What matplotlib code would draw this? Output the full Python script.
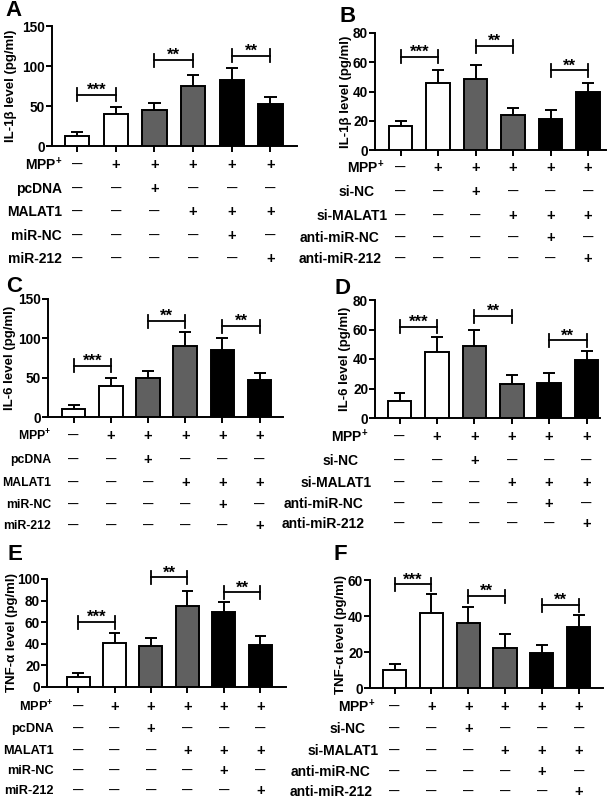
import matplotlib
matplotlib.use('Agg')
import matplotlib.pyplot as plt
import matplotlib.transforms as mtransforms

plt.rcParams['font.family'] = ['Liberation Sans', 'DejaVu Sans']
plt.rcParams['font.weight'] = 'bold'
plt.rcParams['mathtext.fontset'] = 'custom'
plt.rcParams['mathtext.rm'] = 'Liberation Sans:bold'
plt.rcParams['mathtext.bf'] = 'Liberation Sans:bold'

# Row labels under the bars
rows_oe = ['MPP$^{\\mathbf{+}}$', 'pcDNA', 'MALAT1', 'miR-NC', 'miR-212']
rows_kd = ['MPP$^{\\mathbf{+}}$', 'si-NC', 'si-MALAT1', 'anti-miR-NC', 'anti-miR-212']
signs = [
    ['-', '+', '+', '+', '+', '+'],
    ['-', '-', '+', '-', '-', '-'],
    ['-', '-', '-', '+', '+', '+'],
    ['-', '-', '-', '-', '+', '-'],
    ['-', '-', '-', '-', '-', '+'],
]
bar_colors = ['white', 'white', '#606060', '#606060', 'black', 'black']

# Means and SD (pg/ml)
il1b_oe = [13, 40, 45, 75, 82, 52]
il1b_oe_err = [4, 9, 9, 14, 16, 9]
il1b_kd = [16.4, 45.5, 48.4, 23.6, 21, 39.5]
il1b_kd_err = [3.6, 9.5, 9.6, 5.4, 6.5, 6.5]
il6_oe = [10, 40, 49, 90, 85, 47.5]
il6_oe_err = [5, 9, 10, 18, 16, 8.5]
il6_kd = [11.4, 45, 49, 23, 24, 39]
il6_kd_err = [5.6, 10, 11, 6, 6.5, 6.5]
tnf_oe = [9.2, 40.6, 38, 75, 69, 38.5]
tnf_oe_err = [3.7, 9.4, 7.5, 14, 10, 8.5]
tnf_kd = [10, 41.9, 36, 22.4, 19.6, 34]
tnf_kd_err = [3.3, 10.1, 9, 7.4, 4.3, 6.4]

# Significance brackets: (bar i, bar j, height, label)
sig_a = [(0, 1, 64, '***'), (2, 3, 107.5, '**'), (4, 5, 113, '**')]
sig_b = [(0, 1, 63.6, '***'), (2, 3, 71, '**'), (4, 5, 54.5, '**')]
sig_c = [(0, 1, 65, '***'), (2, 3, 122, '**'), (4, 5, 115.5, '**')]
sig_d = [(0, 1, 62, '***'), (2, 3, 69, '**'), (4, 5, 52.7, '**')]
sig_e = [(0, 1, 60, '***'), (2, 3, 101.5, '**'), (4, 5, 87.7, '**')]
sig_f = [(0, 1, 57.6, '***'), (2, 3, 51, '**'), (4, 5, 46, '**')]

W, H = 616, 799
fig = plt.figure(figsize=(W / 100, H / 100), dpi=100)


def draw_panel(letter, box, xlim, ymax, ystep, ylabel, vals, errs, sigs,
               rows, row_y, row_x, row_dx, row_fs, letter_xy, ylabel_x):
    left, top, right, bottom = box
    ax = fig.add_axes([left / W, 1 - bottom / H, (right - left) / W, (bottom - top) / H])
    x = list(range(len(vals)))
    ax.bar(x, vals, width=0.63, color=bar_colors, edgecolor='black', linewidth=1.4, zorder=3)
    tops = [v + e for v, e in zip(vals, errs)]
    ax.vlines(x, vals, tops, color='black', linewidth=1.4, zorder=2)
    ax.hlines(tops, [i - 0.16 for i in x], [i + 0.16 for i in x], color='black', linewidth=1.4, zorder=2)

    ax.set_xlim(*xlim)
    ax.set_ylim(0, ymax)
    ax.set_yticks(range(0, ymax + 1, ystep))
    ax.set_xticks(x)
    ax.set_xticklabels([])
    for s in ['top', 'right']:
        ax.spines[s].set_visible(False)
    for s in ['left', 'bottom']:
        ax.spines[s].set_linewidth(1.4)
    ax.tick_params(width=1.4, length=4, labelsize=9.8, pad=1)
    for lab in ax.get_yticklabels():
        lab.set_fontweight('bold')

    # brackets
    half = 6.5 / (bottom - top) * ymax
    for i, j, y, lab in sigs:
        ax.plot([i, j], [y, y], color='black', linewidth=1.3, clip_on=False)
        ax.plot([i, i], [y - half, y + half], color='black', linewidth=1.3, clip_on=False)
        ax.plot([j, j], [y - half, y + half], color='black', linewidth=1.3, clip_on=False)
        ax.text((i + j) / 2, y, lab, ha='center', va='baseline', fontsize=12)

    # condition table
    tr = mtransforms.blended_transform_factory(ax.transData, fig.transFigure)
    for r, name in enumerate(rows):
        yf = 1 - row_y[r] / H
        fig.text((row_x + row_dx[r]) / W, yf, name, ha='right', va='center', fontsize=row_fs)
        for c, s in enumerate(signs[r]):
            if s == '+':
                ax.text(c, yf, '+', transform=tr, ha='center', va='center', fontsize=10.5)
            else:
                ax.text(c, yf, '\u2014', transform=tr, ha='center', va='center', fontsize=7.5)

    fig.text(letter_xy[0] / W, 1 - letter_xy[1] / H, letter, ha='center', va='center', fontsize=16)
    fig.text(ylabel_x / W, 1 - (top + bottom) / 2 / H, ylabel, rotation=90,
             ha='center', va='center', fontsize=9.5)
    return ax


no_dx = [0, 0, 0, 0, 0]
kd_dx = [0, -9, 4, -5, -3]

draw_panel('A', (52, 26, 297, 146), (-0.65, 5.69), 150, 50, 'IL-1\u03b2 level (pg/ml)',
           il1b_oe, il1b_oe_err, sig_a, rows_oe, [165, 189, 212, 236, 259], 62, no_dx, 10, (13, 11), 11)
draw_panel('B', (375, 33, 606, 150), (-0.68, 5.48), 80, 20, 'IL-1\u03b2 level (pg/ml)',
           il1b_kd, il1b_kd_err, sig_b, rows_kd, [168, 192, 216, 238, 259], 384, kd_dx, 10, (348, 16), 346)
draw_panel('C', (48, 299, 283, 417), (-0.69, 5.63), 150, 50, 'IL-6 level (pg/ml)',
           il6_oe, il6_oe_err, sig_c, rows_oe, [436, 460, 483, 505, 526], 51, no_dx, 8.8, (14, 286), 10)
draw_panel('D', (375, 300, 600, 418), (-0.655, 5.36), 80, 20, 'IL-6 level (pg/ml)',
           il6_kd, il6_kd_err, sig_d, rows_kd, [437, 461, 483, 504, 524], 368, kd_dx, 10, (343, 289), 345)
draw_panel('E', (47, 579, 286, 687), (-0.85, 5.70), 100, 20, 'TNF-\u03b1 level (pg/ml)',
           tnf_oe, tnf_oe_err, sig_e, rows_oe, [707, 729, 751, 771, 791], 54, no_dx, 9.2, (15, 555), 12)
draw_panel('F', (370, 580, 603, 688), (-0.67, 5.66), 60, 20, 'TNF-\u03b1 level (pg/ml)',
           tnf_kd, tnf_kd_err, sig_f, rows_kd, [707, 729, 751, 772, 792], 375, kd_dx, 10, (340, 555), 341)

fig.savefig('out.png', dpi=100)
